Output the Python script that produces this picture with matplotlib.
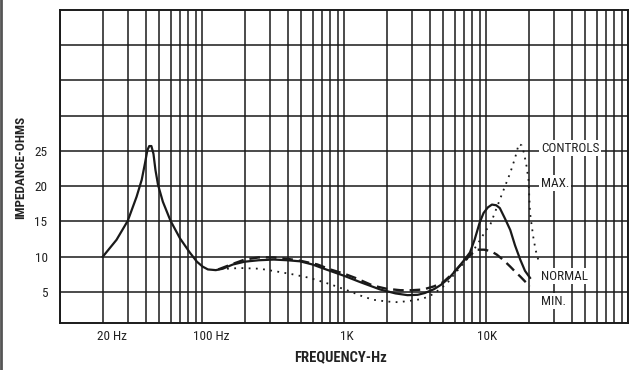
import matplotlib
matplotlib.use("Agg")
import matplotlib.pyplot as plt
import matplotlib.transforms as mtransforms
from matplotlib import font_manager
from matplotlib.lines import Line2D

# pick a narrow face if one is around, like the scanned lettering
names = {f.name for f in font_manager.fontManager.ttflist}
narrow = [n for n in ["Roboto Condensed", "DejaVu Sans Condensed",
                      "Liberation Sans Narrow", "Open Sans Condensed"]
          if n in names]
plt.rcParams["font.family"] = narrow + ["DejaVu Sans"]

# NORMAL (solid)
normal_f = [20, 25, 30, 34.6, 37.6, 39.7, 41.2, 42.5, 44, 45.5, 47, 49, 53, 60,
            70, 82, 92, 101, 110, 125, 140, 165, 200, 250, 320, 400, 490, 600,
            700, 850, 1000, 1300, 1800, 2300, 2800, 3300, 3700, 4300, 4800,
            5500, 6200, 7000, 7700, 8300, 9000, 9600, 10300, 11000, 11800,
            12500, 13600, 14800, 16000, 17400, 18800, 20400]
normal_z = [10.0, 12.4, 15.1, 18.5, 20.9, 23.3, 25.1, 25.7, 25.7, 24.6, 22.3,
            20.2, 17.8, 15.1, 12.6, 10.6, 9.3, 8.6, 8.2, 8.1, 8.3, 8.9, 9.3,
            9.5, 9.6, 9.5, 9.35, 8.9, 8.4, 7.8, 7.3, 6.4, 5.35, 4.8, 4.55, 4.6,
            4.85, 5.4, 6.0, 7.0, 8.2, 9.5, 10.6, 12.4, 14.8, 16.2, 17.0, 17.4,
            17.3, 16.9, 15.4, 13.8, 11.6, 9.6, 8.0, 7.0]

# MIN (dashed)
min_f = [130, 160, 200, 250, 320, 400, 500, 650, 800, 1000, 1200, 1600, 2000,
         2500, 3000, 3600, 4300, 5000, 5800, 6900, 7800, 8600, 9700, 10800,
         11900, 13300, 14800, 16000, 17400, 18800, 20400]
min_z = [8.2, 8.9, 9.6, 9.9, 9.9, 9.7, 9.4, 8.9, 8.2, 7.6, 7.0, 5.9, 5.45, 5.25,
         5.25, 5.35, 5.8, 6.4, 7.6, 9.2, 10.3, 11.0, 11.0, 10.8, 10.3, 9.5, 8.6,
         7.9, 7.2, 6.5, 5.8]

# MAX (dotted)
max_f = [150, 185, 256, 337, 436, 573, 800, 1100, 1300, 1600, 2000, 2400, 3050,
         3500, 4000, 4700, 5300, 5800, 6500, 7300, 8200, 9100, 10000, 10600,
         11500, 12500, 13600, 14800, 16000, 17000, 17800, 18500, 19300, 19900,
         20400, 21000, 21500, 22300, 23300]
max_z = [8.3, 8.4, 8.3, 7.9, 7.5, 7.0, 6.1, 5.1, 4.5, 3.9, 3.65, 3.55, 3.8, 4.0,
         4.4, 5.35, 6.2, 7.2, 8.4, 9.6, 11.0, 12.4, 13.8, 14.3, 16.2, 18.1, 20.0,
         21.9, 24.0, 26.0, 25.8, 24.7, 22.8, 20.9, 16.2, 14.3, 12.8, 11.0, 9.6]

ytick_vals = [5, 10, 15, 20, 25, 30, 35, 40]
ytick_labels = ["5", "10", "15", "20", "25", "", "", ""]
xlabel_text = ["20 Hz", "100 Hz", "1K", "10K"]
xlabel_f = [23.2, 117, 1050, 10200]

fs = 9.5 if narrow else 8.5

fig = plt.figure(figsize=(6.37, 3.70), dpi=100)
ax = fig.add_axes([0.0942, 0.127, 0.8918, 0.846])

ax.set_xscale("log")
ax.set_xlim(10, 100000)
ax.set_ylim(0.6, 45)

grid_f = [m * 10 ** e for e in range(1, 5) for m in range(1, 10)] + [100000]
ax.set_xticks(grid_f)
ax.set_xticklabels([""] * len(grid_f))
ax.xaxis.set_minor_locator(matplotlib.ticker.NullLocator())
ax.set_yticks(ytick_vals)
ax.set_yticklabels(ytick_labels, fontsize=fs, color="#222222")
ax.tick_params(length=0, pad=9)
ax.grid(True, color="#1a1a1a", lw=1.1)
for s in ax.spines.values():
    s.set_color("#1a1a1a")
    s.set_linewidth(1.4)

ax.plot(normal_f, normal_z, color="#1a1a1a", lw=1.6, zorder=5,
        solid_joinstyle="round")
ax.plot(min_f, min_z, color="#1a1a1a", lw=1.7, zorder=4,
        linestyle=(0, (4.5, 2.5)))
ax.plot(max_f, max_z, color="#1a1a1a", lw=1.3, zorder=3,
        linestyle=(0, (1, 3)))

trans = mtransforms.blended_transform_factory(ax.transData, ax.transAxes)
for lbl, f in zip(xlabel_text, xlabel_f):
    ax.text(f, -0.042, lbl, transform=trans, ha="center", va="center",
            fontsize=fs, color="#222222")

box = dict(fc="white", ec="none", pad=1.2)
ax.text(0.847, 0.559, "CONTROLS", transform=ax.transAxes, ha="left",
        va="center", fontsize=fs, color="#222222", bbox=box, zorder=6)
ax.text(0.847, 0.447, "MAX.", transform=ax.transAxes, ha="left",
        va="center", fontsize=fs, color="#222222", bbox=box, zorder=6)
ax.text(0.847, 0.150, "NORMAL", transform=ax.transAxes, ha="left",
        va="center", fontsize=fs, color="#222222", bbox=box, zorder=6)
ax.text(0.847, 0.070, "MIN.", transform=ax.transAxes, ha="left",
        va="center", fontsize=fs, color="#222222", bbox=box, zorder=6)

fig.text(0.033, 0.548, "IMPEDANCE-OHMS", rotation=90, ha="center",
         va="center", fontsize=fs, fontweight="bold", color="#222222")
fig.text(0.534, 0.035, "FREQUENCY-Hz", ha="center", va="center",
         fontsize=fs + 1, fontweight="bold", color="#222222")

fig.add_artist(Line2D([0.002, 0.002], [0, 1], transform=fig.transFigure,
                      color="#555555", lw=2))

fig.savefig("out.png", dpi=100)
